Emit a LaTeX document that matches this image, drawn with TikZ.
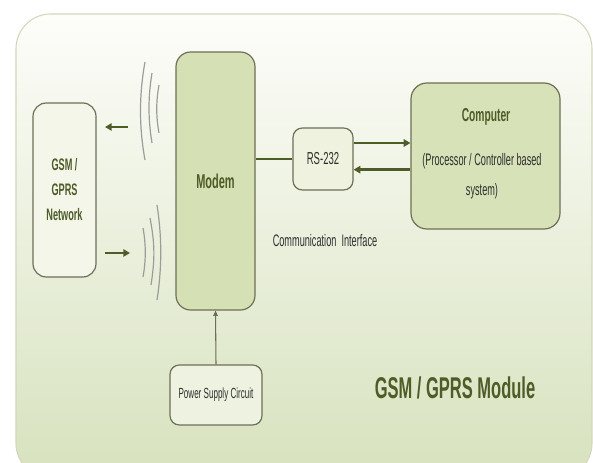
\documentclass[tikz,border=0pt]{standalone}
\usepackage{fontspec}
\setmainfont{Liberation Sans}
\newfontfamily\narrowsf[FakeStretch=0.55]{Liberation Sans}
\usetikzlibrary{arrows.meta}

\definecolor{olivetext}{HTML}{4E5C28}
\definecolor{darktext}{HTML}{2F2F2F}
\definecolor{boxline}{HTML}{6E6F55}
\definecolor{gsmfill}{HTML}{F4F6EA}
\definecolor{modemfill}{HTML}{D6E0B5}
\definecolor{rsfill}{HTML}{EEF2DE}
\definecolor{compfill}{HTML}{D8E2B8}
\definecolor{powerfill}{HTML}{EEF2E0}
\definecolor{wavegray}{HTML}{9C9C9C}
\definecolor{bgtop}{HTML}{FDFDFA}
\definecolor{bgmid}{HTML}{EAF0DA}
\definecolor{bgbottom}{HTML}{D7E2BE}
\definecolor{bgline}{HTML}{D2D7BC}

\begin{document}
\begin{tikzpicture}[x=0.75pt,y=-0.75pt]

% one unit is one pixel of the drawing
\def\u{0.75pt}
% Define styles
\tikzset{box/.style={draw=boxline, line width=0.9pt, rounded corners=10pt,
        inner sep=0pt, align=center},
    title/.style={text=olivetext},
    plain/.style={text=darktext},
    sigarrow/.style={line width=1.9pt, draw=olivetext,
        -{Triangle[length=5pt, width=5.5pt]}}, % thick signal arrow
    wave/.style={line width=0.9pt, draw=wavegray}
    }

% Background panel
\useasboundingbox (0,0) rectangle (593,463);
\shade[top color=bgtop, middle color=bgmid, bottom color=bgbottom, rounded corners=26pt]
    (16,14) rectangle (592,478);
\draw[bgline, line width=0.8pt, rounded corners=26pt] (16,14) rectangle (592,478);

% Blocks
\node[box, fill=gsmfill, minimum width={63*\u}, minimum height={174*\u}, title,
    font=\narrowsf\bfseries\fontsize{12.5}{18.75}\selectfont] (gsm) at (64.5,190) {GSM /\\GPRS\\Network};
\node[box, fill=modemfill, rounded corners=11pt, minimum width={79*\u}, minimum height={258*\u}, title,
    font=\narrowsf\bfseries\fontsize{15}{17}\selectfont] (modem) at (215.5,181) {Modem};
\node[box, fill=rsfill, rounded corners=7pt, minimum width={60*\u}, minimum height={62*\u}, plain,
    font=\narrowsf\fontsize{13}{15}\selectfont] (rs) at (323,159) {RS-232};
\node[box, fill=compfill, rounded corners=12pt, minimum width={149*\u}, minimum height={146*\u}] (computer) at (485.5,156) {};
\node[box, fill=powerfill, rounded corners=7pt, minimum width={92*\u}, minimum height={60*\u}, plain,
    font=\narrowsf\fontsize{11}{13}\selectfont] (power) at (216,395) {Power Supply Circuit};

% Texts
\node[title, anchor=base, font=\narrowsf\bfseries\fontsize{14}{16}\selectfont] (comptitle) at (486,122) {Computer};
\node[plain, anchor=base, align=center, font=\narrowsf\fontsize{12.5}{22.5}\selectfont] (compnote) at (482,196)
    {(Processor / Controller based\\system)};
\node[plain, anchor=base, font=\narrowsf\fontsize{12.5}{15}\selectfont] (iface) at (325,247) {Communication\ \ Interface};
\node[title, anchor=base, font=\narrowsf\bfseries\fontsize{22.5}{26}\selectfont] (module) at (455,398) {GSM / GPRS Module};

% Connections
\draw[line width=1.9pt, olivetext] (rs.west) -- (rs.west -| modem.east);
\draw[sigarrow] ([yshift=12pt]rs.east) -- ([yshift=12pt]rs.east -| computer.west);
\draw[sigarrow] ([yshift=-8pt]rs.east -| computer.west) -- ([yshift=-8pt]rs.east);
\draw[line width=0.8pt, boxline, -{Triangle[length=4pt, width=3.5pt]}] (power.north) -- (modem.south);

% Signal arrows next to the network
\coordinate (uptail) at (128,127);
\coordinate (uphead) at (105,127);
\coordinate (lowtail) at (105,253);
\coordinate (lowhead) at (130,253);
\draw[sigarrow] (uptail) -- (uphead);
\draw[sigarrow] (lowtail) -- (lowhead);

% Radio waves (outgoing)
\draw[wave] (145,62) .. controls (139,95) and (139,127) .. (145,160);
\draw[wave] (152,73) .. controls (148,97) and (148,119) .. (152,143);
\draw[wave] (159,85) .. controls (156,101) and (156,117) .. (159,133);
% Radio waves (incoming)
\draw[wave] (143,228) .. controls (146,244) and (146,261) .. (143,277);
\draw[wave] (150,218) .. controls (155,244) and (155,259) .. (151,285);
\draw[wave] (157,205) .. controls (162,237) and (162,268) .. (157,300);

\end{tikzpicture}
\end{document}
